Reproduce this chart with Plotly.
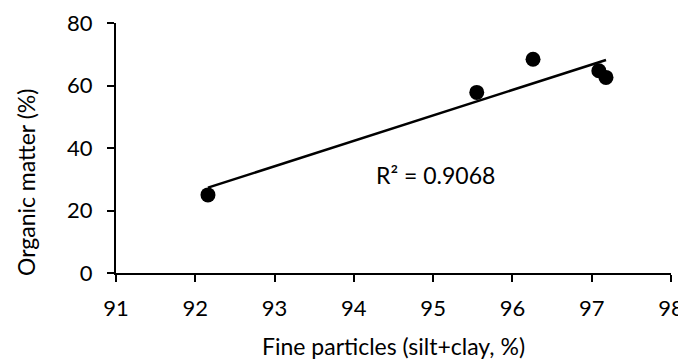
import numpy as np
import plotly.graph_objects as go

fine_particles = [92.16, 95.55, 96.26, 97.09, 97.18]
organic_matter = [25.0, 57.8, 68.4, 64.7, 62.6]
x_ticks = [91, 92, 93, 94, 95, 96, 97, 98]
y_ticks = [0, 20, 40, 60, 80]
r2_label = "R² = 0.9068"

FONT = "Lato"
FS = 22

slope, intercept = np.polyfit(fine_particles, organic_matter, 1)
tx = [min(fine_particles), max(fine_particles)]
ty = [slope * v + intercept for v in tx]

fig = go.Figure()
fig.add_trace(go.Scatter(x=tx, y=ty, mode="lines",
                         line=dict(color="black", width=2.5), showlegend=False, hoverinfo="skip"))
fig.add_trace(go.Scatter(x=fine_particles, y=organic_matter, mode="markers",
                         marker=dict(color="black", size=15), showlegend=False))

fig.add_annotation(x=95.03, y=31.4, xref="x", yref="y", text=r2_label, showarrow=False,
                   font=dict(family=FONT, size=23, color="black"))
fig.add_annotation(x=-0.163, y=0.362, xref="paper", yref="paper", text="Organic matter (%)",
                   textangle=-90, showarrow=False, xanchor="center", yanchor="middle",
                   font=dict(family=FONT, size=23, color="black"))

# page has an 8px body margin, so the figure is shrunk and shifted to compensate
fig.update_layout(
    width=678, height=352,
    margin=dict(l=108, r=15, t=15, b=87, autoexpand=False),
    paper_bgcolor="white", plot_bgcolor="white",
    font=dict(family=FONT, size=FS, color="black"),
    xaxis=dict(range=[91, 98], tickvals=x_ticks, showgrid=False, zeroline=False,
               showline=True, linecolor="black", linewidth=2,
               ticks="outside", ticklen=7, tickwidth=2, tickcolor="black",
               ticklabelstandoff=8, automargin=False,
               title=dict(text="Fine particles (silt+clay, %)", standoff=18,
                          font=dict(family=FONT, size=23))),
    yaxis=dict(range=[0, 80], tickvals=y_ticks, showgrid=False, zeroline=False,
               showline=True, linecolor="black", linewidth=2,
               ticks="outside", ticklen=7, tickwidth=2, tickcolor="black",
               ticklabelstandoff=10, automargin=False),
)

fig.write_html("out.html")
